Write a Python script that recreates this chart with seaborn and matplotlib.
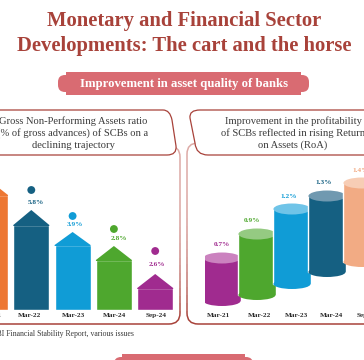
import matplotlib
matplotlib.use("Agg")
import matplotlib.pyplot as plt
import numpy as np
import seaborn as sns
from matplotlib.patches import Ellipse, FancyBboxPatch, PathPatch, Polygon, Rectangle
from matplotlib.path import Path

# values
gnpa_months = ["Mar-21", "Mar-22", "Mar-23", "Mar-24", "Sep-24"]
gnpa_labels = ["7.3%", "5.8%", "3.9%", "2.8%", "2.6%"]
gnpa_shoulder = [115, 85, 65, 50, 22]  # drawn heights, the infographic is not to scale
gnpa_apex = [129, 100, 78, 64, 36]
gnpa_colors = ["#ED7733", "#156082", "#109CD6", "#4EA72E", "#A02B8F"]

roa_months = ["Mar-21", "Mar-22", "Mar-23", "Mar-24", "Sep-24"]
roa_labels = ["0.7%", "0.9%", "1.2%", "1.3%", "1.4%"]
roa_top = [52, 76, 101, 114, 127]
roa_floor = [9, 15, 26, 38, 48]
roa_colors = ["#A02B8F", "#4EA72E", "#109CD6", "#156082", "#F2AB84"]
roa_lids = ["#CB82BF", "#95CA82", "#6FC4E8", "#7099B0", "#F7CDB5"]

# layout tweaks, not data
dot_lift = [19, 20, 16, 17, 23]
text_lift = [9, 8, 8, 7, 10]
text_shift = [0.05, 0.1, 0.05, 0.12, 0.05]
roa_text_shift = [0, -0.14, -0.09, -0.09, -0.05]
gnpa_ticks = [0, 0.95, 2.03, 3.02, 4.02]
roa_ticks = [-0.11, 1.06, 2.14, 3.14, 4.14]

DARK_RED = "#A8423A"
PINK = "#D96B72"
TEXT = "#3A3A3A"
W, H = 364, 360

sns.set_theme(style="white")
plt.rcParams["font.family"] = ["Liberation Serif", "DejaVu Serif"]

fig = plt.figure(figsize=(W / 100, H / 100), dpi=100, facecolor="white")


def px_axes(left, bottom, width, height):
    # axes placed in picture pixels, y measured from the top
    ax = fig.add_axes([left / W, (H - bottom) / H, width / W, height / H])
    ax.set_facecolor("none")
    return ax


bg = fig.add_axes([0, 0, 1, 1])
bg.set_xlim(0, W)
bg.set_ylim(H, 0)
bg.axis("off")

bg.text(184, 21, "Monetary and Financial Sector", ha="center", va="center",
        fontsize=14.9, fontweight="bold", color=DARK_RED)
bg.text(184, 46, "Developments: The cart and the horse", ha="center", va="center",
        fontsize=14.9, fontweight="bold", color=DARK_RED)


def banner(x0, x1, y0, y1, inset=8, lip=3):
    bg.add_patch(Rectangle((x0 + inset, y0), x1 - x0 - 2 * inset, y1 - y0, color=PINK, lw=0))
    bg.add_patch(FancyBboxPatch((x0 + 5, y0 + lip + 5), x1 - x0 - 10, y1 - y0 - 2 * lip - 10,
                                boxstyle="round,pad=5,rounding_size=7", color=PINK, lw=0))


banner(58, 309, 72, 95)
bg.text(183.5, 83.5, "Improvement in asset quality of banks", ha="center", va="center",
        fontsize=9.2, fontweight="bold", color="white")
banner(114, 253, 354, 380)


def panel(x0, x1, y0, y1):
    # border fades from pale pink at the top to dark red at the bottom
    pale = np.array(matplotlib.colors.to_rgb("#DDAAA6"))
    dark = np.array(matplotlib.colors.to_rgb(DARK_RED))
    edges = np.linspace(y0 - 2, y1 + 2, 25)
    for i in range(24):
        mix = min(1, (i / 23) ** 3 * 1.1)
        box = FancyBboxPatch((x0, y0), x1 - x0, y1 - y0, boxstyle="round,pad=0,rounding_size=11",
                             fc="white", ec=pale + (dark - pale) * mix, lw=1.1)
        bg.add_patch(box)
        band = Rectangle((x0 - 3, edges[i]), x1 - x0 + 6, edges[i + 1] - edges[i], transform=bg.transData)
        box.set_clip_path(band)


def callout(points):
    # tapered speech box: straight runs with one curved corner between them
    codes = [Path.MOVETO, Path.LINETO, Path.CURVE3, Path.CURVE3, Path.LINETO,
             Path.CURVE3, Path.CURVE3, Path.LINETO, Path.CLOSEPOLY]
    bg.add_patch(PathPatch(Path(points + [points[0]], codes), fc="white", ec=DARK_RED, lw=0.9, zorder=3))


panel(-20, 180, 146, 324)
panel(187, 400, 143, 324)
callout([(-20, 110), (163, 110), (170, 110), (172, 120), (176, 146), (177, 155), (167, 155), (-20, 155)])
callout([(400, 110), (200, 110), (189, 110), (190, 118), (195, 143), (196, 155), (208, 155), (400, 155)])

left_lines = ["Gross Non-Performing Assets ratio", "(% of gross advances) of SCBs on a", "declining trajectory"]
right_lines = ["Improvement in the profitability", "of SCBs reflected in rising Return", "on Assets (RoA)"]
for i in range(3):
    bg.text(73, 121 + 12 * i, left_lines[i], ha="center", va="center", fontsize=7.6, color=TEXT, zorder=4)
    bg.text(293, 121 + 12 * i, right_lines[i], ha="center", va="center", fontsize=7.6, color=TEXT, zorder=4)

bg.text(134, 333.5, "Source: RBI Financial Stability Report, various issues", ha="right", va="center",
        fontsize=5.6, color=TEXT)

# left chart, one y unit is one pixel
ax1 = px_axes(-30.65, 310, 206.5, 150)
sns.barplot(x=gnpa_months, y=gnpa_shoulder, hue=gnpa_months, palette=gnpa_colors, saturation=1,
            width=0.87, legend=False, ax=ax1)
ax1.set_xlim(-0.5, 4.5)
ax1.set_ylim(0, 150)
for i, bar in enumerate(ax1.patches[:5]):
    x0, w = bar.get_x(), bar.get_width()
    s = gnpa_shoulder[i]
    ax1.add_patch(Polygon([(x0, s - 1), (x0, s), (x0 + w / 2, gnpa_apex[i]), (x0 + w, s), (x0 + w, s - 1)],
                          closed=True, fc=gnpa_colors[i], ec="none"))
dot_y = [a + b for a, b in zip(gnpa_apex, dot_lift)]
sns.scatterplot(x=list(range(5)), y=dot_y, hue=gnpa_months, palette=gnpa_colors, s=32,
                linewidth=0, legend=False, ax=ax1, clip_on=False)
for i, lab in enumerate(gnpa_labels):
    ax1.text(i + text_shift[i], gnpa_apex[i] + text_lift[i], lab, ha="center", va="center", fontsize=5.2,
             fontweight="bold", color=gnpa_colors[i], clip_on=False)
ax1.set_xticks(gnpa_ticks, labels=gnpa_months)

# right chart, cylinders float on their own floor
ax2 = px_axes(204.5, 310, 175, 150)
sns.barplot(x=roa_months, y=roa_top, hue=roa_months, palette=roa_colors, saturation=1,
            width=1.06, legend=False, ax=ax2)
ax2.set_xlim(-0.5, 4.5)
ax2.set_ylim(0, 150)
for i, bar in enumerate(ax2.patches[:5]):
    bar.set_y(roa_floor[i])
    bar.set_height(roa_top[i] - roa_floor[i])
    bar.set_zorder(2 + i)
    cx = bar.get_x() + bar.get_width() / 2
    ax2.add_patch(Ellipse((cx, roa_floor[i]), bar.get_width(), 10, fc=roa_colors[i], ec="none", zorder=2 + i))
    ax2.add_patch(Ellipse((cx, roa_top[i]), bar.get_width(), 11, fc=roa_lids[i], ec="none", zorder=2.5 + i))
    ax2.text(i + roa_text_shift[i], roa_top[i] + 13, roa_labels[i], ha="center", va="center", fontsize=5.2,
             fontweight="bold", color=roa_colors[i], clip_on=False)
ax2.set_xticks(roa_ticks, labels=roa_months)

for ax in (ax1, ax2):
    ax.set_xlabel("")
    ax.set_ylabel("")
    ax.set_yticks([])
    ax.tick_params(axis="x", length=0, pad=2.2, labelsize=5.2, labelcolor="#2E2E2E")
    for lab in ax.get_xticklabels():
        lab.set_fontweight("bold")
    sns.despine(ax=ax, left=True, bottom=True)

fig.savefig("out.png", dpi=100)
